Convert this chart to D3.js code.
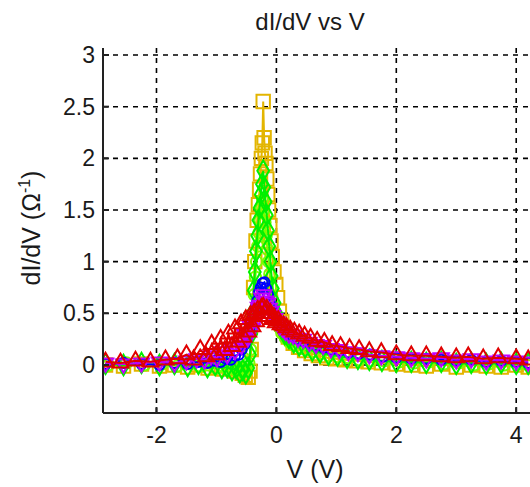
<!DOCTYPE html>
<html><head><meta charset="utf-8">
<script src="https://cdn.jsdelivr.net/npm/d3@7"></script>
<style>
html,body{margin:0;padding:0;background:#fff;}
svg{display:block;font-family:Arial,"Liberation Sans",sans-serif;}
</style></head>
<body><svg id="chart" width="530" height="487"></svg>
<script>
// ---- data ----
const titleText = "dI/dV vs V";
const xTicks = [-2, 0, 2, 4];
const yTicks = [0, 0.5, 1, 1.5, 2, 2.5, 3];
const yTickLabels = ["0", "0.5", "1", "1.5", "2", "2.5", "3"];

const yellowV = [-2.85,-2.55,-2.25,-1.95,-1.7,-1.48,-1.3,-1.14,-1.0,-0.88,-0.78,-0.7,-0.63,-0.57,-0.52,-0.47,-0.44,-0.42,-0.4,-0.38,-0.36,-0.34,-0.32,-0.3,-0.28,-0.265,-0.25,-0.235,-0.22,-0.205,-0.19,-0.175,-0.16,-0.145,-0.13,-0.11,-0.09,-0.07,-0.04,-0.01,0.02,0.05,0.09,0.14,0.2,0.28,0.37,0.47,0.58,0.7,0.84,0.99,1.15,1.33,1.53,1.75,2.0,2.25,2.5,2.75,3.0,3.25,3.5,3.75,4.0,4.2];
const yellowG = [0.0,-0.01,0.01,-0.01,0.0,-0.02,0.0,-0.03,-0.01,-0.04,-0.03,-0.06,-0.04,-0.08,-0.1,-0.12,-0.06,0.15,0.45,0.75,1.0,1.2,1.4,1.55,1.7,1.85,2.0,2.15,2.55,2.2,2.05,1.95,1.8,1.65,1.5,1.35,1.2,1.05,0.9,0.78,0.65,0.52,0.42,0.34,0.27,0.21,0.17,0.14,0.11,0.09,0.07,0.06,0.05,0.04,0.03,0.02,0.01,0.0,-0.01,0.01,-0.02,0.0,-0.01,-0.02,0.0,-0.02];

const limeV = [-2.8,-2.5,-2.2,-1.9,-1.65,-1.45,-1.28,-1.13,-1.0,-0.9,-0.81,-0.73,-0.66,-0.6,-0.55,-0.5,-0.46,-0.43,-0.41,-0.39,-0.37,-0.35,-0.33,-0.31,-0.29,-0.27,-0.25,-0.23,-0.21,-0.19,-0.17,-0.15,-0.13,-0.11,-0.09,-0.06,-0.03,0.0,0.04,0.09,0.15,0.22,0.3,0.39,0.49,0.61,0.74,0.88,1.03,1.2,1.38,1.58,1.8,2.05,2.3,2.55,2.8,3.05,3.3,3.55,3.8,4.05,4.2];
const limeG = [0.0,0.02,0.0,0.01,-0.01,0.01,-0.01,0.0,-0.03,-0.01,-0.04,-0.02,-0.06,-0.04,-0.07,-0.05,0.02,0.15,0.32,0.5,0.68,0.85,1.0,1.15,1.28,1.4,1.52,1.6,1.5,1.38,1.25,1.12,1.0,0.88,0.76,0.62,0.52,0.44,0.37,0.31,0.26,0.22,0.19,0.17,0.15,0.13,0.11,0.09,0.08,0.07,0.05,0.04,0.04,0.03,0.02,0.03,0.01,0.02,0.0,0.01,0.0,0.01,0.0];

const greenV = [-2.85,-2.55,-2.25,-1.95,-1.7,-1.48,-1.3,-1.15,-1.02,-0.91,-0.82,-0.74,-0.67,-0.61,-0.56,-0.51,-0.47,-0.44,-0.42,-0.4,-0.38,-0.36,-0.34,-0.32,-0.3,-0.28,-0.26,-0.24,-0.22,-0.2,-0.18,-0.16,-0.14,-0.12,-0.1,-0.08,-0.06,-0.03,0.0,0.04,0.08,0.14,0.21,0.29,0.38,0.48,0.6,0.73,0.87,1.02,1.18,1.36,1.55,1.76,2.0,2.25,2.5,2.75,3.0,3.25,3.5,3.75,4.0,4.2];
const greenG = [0.01,0.0,0.02,0.0,0.01,-0.01,0.01,-0.02,0.0,-0.03,-0.02,-0.05,-0.03,-0.07,-0.05,-0.08,-0.03,0.1,0.3,0.5,0.72,0.9,1.1,1.25,1.4,1.52,1.65,1.75,1.88,1.72,1.58,1.45,1.3,1.15,1.0,0.86,0.74,0.6,0.5,0.42,0.36,0.3,0.26,0.22,0.19,0.17,0.14,0.12,0.1,0.09,0.07,0.06,0.05,0.04,0.03,0.03,0.02,0.03,0.01,0.02,0.01,0.02,0.01,0.01];

const blueV = [-2.85,-2.55,-2.25,-1.95,-1.7,-1.48,-1.3,-1.15,-1.03,-0.93,-0.84,-0.76,-0.69,-0.63,-0.58,-0.53,-0.49,-0.45,-0.41,-0.38,-0.35,-0.32,-0.29,-0.26,-0.23,-0.2,-0.17,-0.14,-0.11,-0.08,-0.05,-0.02,0.02,0.06,0.11,0.16,0.22,0.29,0.37,0.46,0.56,0.67,0.79,0.92,1.06,1.21,1.38,1.57,1.78,2.0,2.25,2.5,2.75,3.0,3.25,3.5,3.75,4.0,4.2];
const blueG = [0.01,0.02,0.01,0.0,0.02,0.01,0.03,0.02,0.04,0.03,0.06,0.05,0.09,0.1,0.15,0.2,0.26,0.33,0.4,0.48,0.55,0.62,0.7,0.75,0.79,0.8,0.74,0.68,0.6,0.55,0.5,0.46,0.42,0.38,0.35,0.32,0.3,0.27,0.25,0.23,0.21,0.19,0.17,0.15,0.14,0.12,0.11,0.1,0.08,0.07,0.06,0.06,0.05,0.04,0.05,0.03,0.04,0.03,0.02];

const magentaV = [-2.85,-2.55,-2.25,-1.95,-1.7,-1.5,-1.33,-1.2,-1.09,-0.99,-0.9,-0.82,-0.75,-0.69,-0.63,-0.58,-0.53,-0.48,-0.44,-0.4,-0.36,-0.33,-0.3,-0.27,-0.24,-0.21,-0.18,-0.15,-0.12,-0.09,-0.06,-0.03,0.01,0.05,0.1,0.15,0.21,0.28,0.36,0.45,0.55,0.66,0.78,0.91,1.05,1.2,1.36,1.55,1.75,2.0,2.25,2.5,2.75,3.0,3.25,3.5,3.75,4.0,4.2];
const magentaG = [0.02,0.01,0.02,0.03,0.02,0.04,0.06,0.05,0.09,0.07,0.13,0.1,0.17,0.14,0.22,0.19,0.3,0.26,0.38,0.35,0.47,0.44,0.56,0.58,0.65,0.68,0.62,0.6,0.55,0.52,0.48,0.45,0.42,0.38,0.36,0.33,0.3,0.29,0.26,0.25,0.22,0.2,0.19,0.16,0.15,0.13,0.12,0.1,0.09,0.08,0.07,0.06,0.07,0.05,0.06,0.04,0.05,0.04,0.03];

const redV = [-2.85,-2.6,-2.35,-2.1,-1.85,-1.65,-1.5,-1.38,-1.27,-1.17,-1.08,-1.0,-0.93,-0.86,-0.8,-0.74,-0.69,-0.64,-0.59,-0.55,-0.51,-0.47,-0.43,-0.4,-0.37,-0.34,-0.31,-0.28,-0.25,-0.22,-0.19,-0.16,-0.13,-0.1,-0.07,-0.04,-0.01,0.03,0.07,0.12,0.17,0.23,0.3,0.38,0.47,0.57,0.68,0.8,0.93,1.07,1.22,1.38,1.55,1.75,2.0,2.25,2.5,2.75,3.0,3.2,3.45,3.7,4.0,4.2];
const redG = [0.03,0.02,0.04,0.03,0.05,0.06,0.1,0.05,0.15,0.08,0.2,0.1,0.25,0.14,0.3,0.18,0.35,0.22,0.4,0.27,0.44,0.32,0.48,0.37,0.5,0.42,0.53,0.47,0.55,0.56,0.5,0.54,0.47,0.5,0.44,0.46,0.41,0.43,0.39,0.38,0.36,0.34,0.32,0.3,0.28,0.26,0.23,0.22,0.19,0.18,0.16,0.15,0.13,0.12,0.1,0.09,0.09,0.08,0.07,0.08,0.06,0.07,0.06,0.05];

const seriesNames = ["yellow","lime","green","blue","magenta","red"];
const seriesColors = ["#E3B500","#7CFC00","#00F000","#0000FF","#C000FF","#E00000"];
const seriesV = [yellowV, limeV, greenV, blueV, magentaV, redV];
const seriesG = [yellowG, limeG, greenG, blueG, magentaG, redG];

// ---- layout ----
const svg = d3.select("#chart");
const pL = 103, pR = 530, pT = 48, pB = 413;
const x = d3.scaleLinear().domain([-2.892, 4.23]).range([pL, pR]);
const y = d3.scaleLinear().domain([-0.465, 3.068]).range([pB, pT]);

svg.append("defs").append("clipPath").attr("id","clip")
  .append("rect").attr("x",pL).attr("y",pT).attr("width",pR-pL).attr("height",pB-pT);

// grid
const grid = svg.append("g");
grid.selectAll("line.gx").data(xTicks).join("line")
  .attr("x1",d=>x(d)).attr("x2",d=>x(d)).attr("y1",pT).attr("y2",pB)
  .attr("stroke","#000").attr("stroke-width",1.6).attr("stroke-dasharray","5,5");
grid.selectAll("line.gy").data(yTicks).join("line")
  .attr("y1",d=>y(d)).attr("y2",d=>y(d)).attr("x1",pL).attr("x2",pR)
  .attr("stroke","#000").attr("stroke-width",1.6).attr("stroke-dasharray","5,5");

// series
const symbols = [d3.symbolSquare, d3.symbolCircle, d3.symbolDiamond, d3.symbolCircle, d3.symbolTriangle, d3.symbolTriangle];
const sizes = [180, 100, 120, 80, 100, 110];
const rot = [0,0,0,0,180,0];
const plot = svg.append("g").attr("clip-path","url(#clip)");
const line = d3.line().x(d=>x(d[0])).y(d=>y(d[1]));
seriesNames.forEach((name,i)=>{
  const pts = seriesV[i].map((v,j)=>[v, seriesG[i][j]]);
  const g = plot.append("g").attr("class","series-"+name);
  g.append("path").datum(pts).attr("d",line).attr("fill","none")
    .attr("stroke",seriesColors[i]).attr("stroke-width",2);
  g.selectAll("path.m").data(pts).join("path").attr("class","m")
    .attr("d", d3.symbol().type(symbols[i]).size(sizes[i]))
    .attr("transform",d=>`translate(${x(d[0])},${y(d[1])}) rotate(${rot[i]})`)
    .attr("fill","none").attr("stroke",seriesColors[i]).attr("stroke-width",2);
});

// axes
const ax = svg.append("g");
ax.append("line").attr("x1",pL).attr("x2",pL).attr("y1",pT).attr("y2",pB)
  .attr("stroke","#222").attr("stroke-width",2);
ax.append("line").attr("x1",pL).attr("x2",pR).attr("y1",pB).attr("y2",pB)
  .attr("stroke","#222").attr("stroke-width",2);
ax.selectAll("line.ty").data(yTicks).join("line")
  .attr("x1",pL).attr("x2",pL+6).attr("y1",d=>y(d)).attr("y2",d=>y(d))
  .attr("stroke","#222").attr("stroke-width",2);
ax.selectAll("line.tx").data(xTicks).join("line")
  .attr("y1",pB).attr("y2",pB-6).attr("x1",d=>x(d)).attr("x2",d=>x(d))
  .attr("stroke","#222").attr("stroke-width",2);
ax.selectAll("text.yl").data(yTicks).join("text")
  .attr("x",95).attr("y",d=>y(d)+8).attr("text-anchor","end")
  .attr("font-size",23).attr("fill","#1a1a1a").text((d,i)=>yTickLabels[i]);
ax.selectAll("text.xl").data(xTicks).join("text")
  .attr("x",d=>x(d)).attr("y",443).attr("text-anchor","middle")
  .attr("font-size",23).attr("fill","#1a1a1a").text(d=>String(d));

svg.append("text").attr("x",310).attr("y",30).attr("text-anchor","middle")
  .attr("font-size",24).attr("fill","#1a1a1a").text(titleText);
svg.append("text").attr("x",315).attr("y",478).attr("text-anchor","middle")
  .attr("font-size",25).attr("fill","#1a1a1a").text("V (V)");
const yl = svg.append("text").attr("transform","translate(40,228) rotate(-90)")
  .attr("text-anchor","middle").attr("font-size",25).attr("fill","#1a1a1a");
yl.append("tspan").text("dI/dV (Ω");
yl.append("tspan").attr("font-size",16).attr("dy",-10).text("-1");
yl.append("tspan").attr("dy",10).text(")");
</script></body></html>
